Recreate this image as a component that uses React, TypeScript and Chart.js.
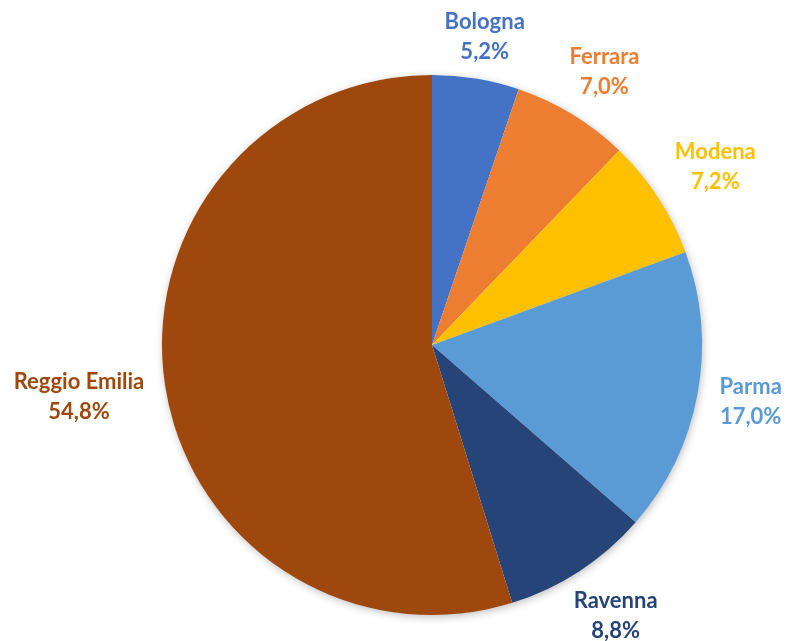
import React, { useEffect, useRef } from "react";
import { Chart, registerables } from "chart.js";

Chart.register(...registerables);

const categories = ["Bologna", "Ferrara", "Modena", "Parma", "Ravenna", "Reggio Emilia"];
const values = [5.2, 7.0, 7.2, 17.0, 8.8, 54.8];
const valueLabels = ["5,2%", "7,0%", "7,2%", "17,0%", "8,8%", "54,8%"];
const colors = ["#4472C4", "#ED7D31", "#FFC000", "#5B9BD5", "#264478", "#9E480E"];

const FONT = "bold 22px Lato, 'Open Sans', sans-serif";
const LINE_H = 30;
const GAP_X = 18;
const GAP_Y = 6;

const shadowPlugin = {
  id: "pieShadow",
  beforeDatasetsDraw(chart: any) {
    const meta = chart.getDatasetMeta(0);
    const arc = meta.data[0];
    if (!arc) return;
    const { x, y, outerRadius } = arc.getProps(["x", "y", "outerRadius"], true);
    const ctx = chart.ctx;
    ctx.save();
    ctx.shadowColor = "rgba(0,0,0,0.28)";
    ctx.shadowBlur = 8;
    ctx.shadowOffsetX = 1;
    ctx.shadowOffsetY = 2;
    ctx.fillStyle = "#ffffff";
    ctx.beginPath();
    ctx.arc(x, y, outerRadius - 0.5, 0, Math.PI * 2);
    ctx.fill();
    ctx.restore();
  },
};

const labelPlugin = {
  id: "outsideLabels",
  afterDatasetsDraw(chart: any) {
    const meta = chart.getDatasetMeta(0);
    const ctx = chart.ctx;
    ctx.save();
    ctx.font = FONT;
    ctx.textAlign = "center";
    ctx.textBaseline = "middle";
    meta.data.forEach((arc: any, i: number) => {
      const { x, y, startAngle, endAngle, outerRadius } = arc.getProps(
        ["x", "y", "startAngle", "endAngle", "outerRadius"],
        true
      );
      const mid = (startAngle + endAngle) / 2;
      const cx = Math.cos(mid);
      const sy = Math.sin(mid);
      const l1 = categories[i];
      const l2 = valueLabels[i];
      const w = Math.max(ctx.measureText(l1).width, ctx.measureText(l2).width);
      const h = LINE_H * 2;
      const half = Math.abs(cx) * (w / 2) + Math.abs(sy) * (h / 2);
      const r = outerRadius + half;
      const px = x + cx * (r + GAP_X);
      const py = y + sy * (r + GAP_Y);
      ctx.fillStyle = colors[i];
      ctx.fillText(l1, px, py - LINE_H / 2);
      ctx.fillText(l2, px, py + LINE_H / 2);
    });
    ctx.restore();
  },
};

export default function App() {
  const ref = useRef<HTMLCanvasElement>(null);
  useEffect(() => {
    if (!ref.current) return;
    const chart = new Chart(ref.current, {
      type: "pie",
      data: {
        labels: categories,
        datasets: [
          {
            data: values,
            backgroundColor: colors,
            borderWidth: 0,
          },
        ],
      },
      options: {
        responsive: false,
        animation: false,
        layout: { padding: { left: 162, right: 85, top: 75, bottom: 26 } },
        plugins: {
          legend: { display: false },
          tooltip: { enabled: false },
        },
      },
      plugins: [shadowPlugin, labelPlugin],
    });
    return () => chart.destroy();
  }, []);
  return (
    <div style={{ position: "fixed", left: 0, top: 0, width: 787, height: 641, background: "#fff" }}>
      <canvas ref={ref} width={787} height={641} style={{ width: 787, height: 641 }} />
    </div>
  );
}
